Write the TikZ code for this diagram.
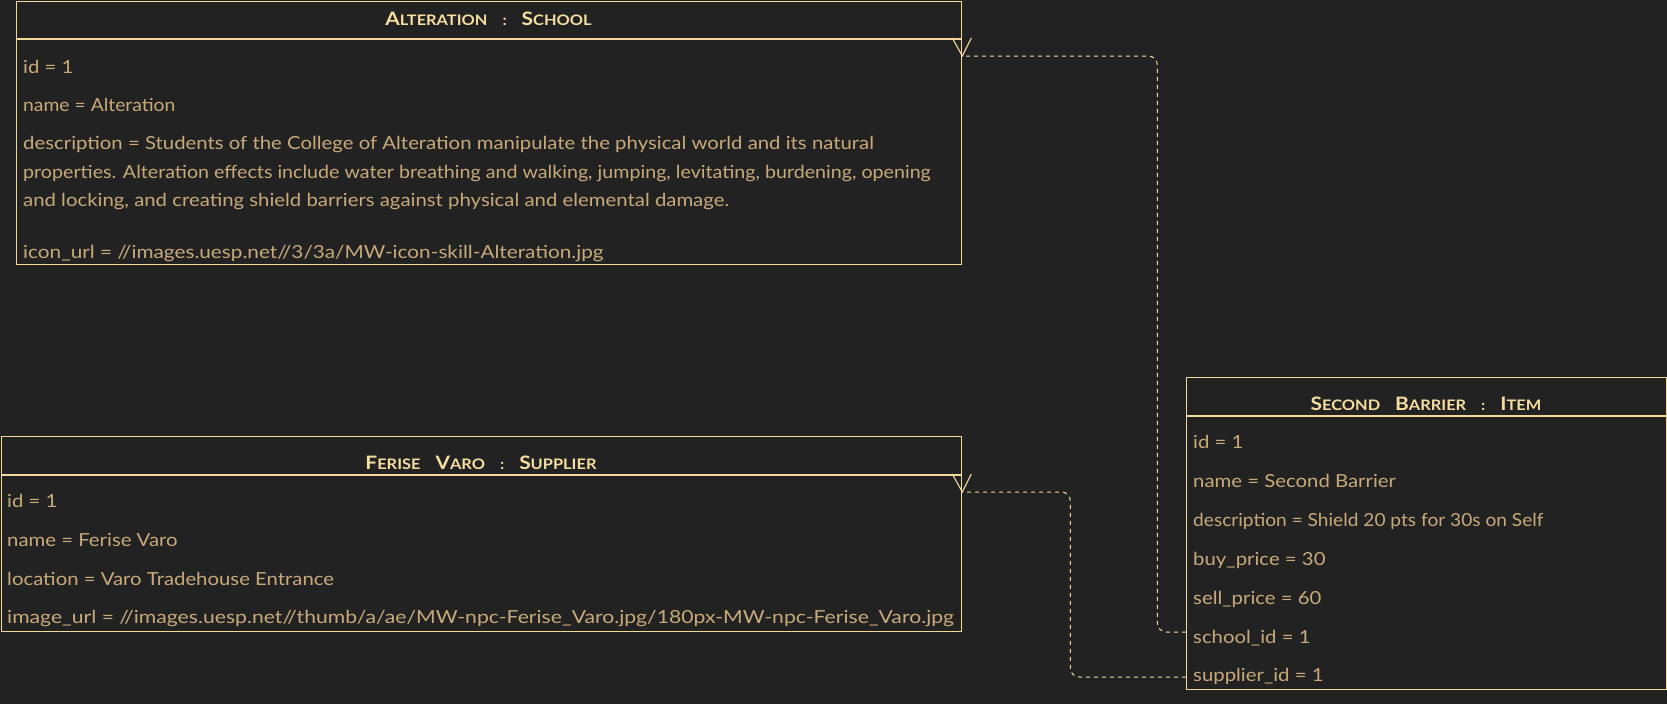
\documentclass[tikz,border=0pt]{standalone}
\usepackage{graphicx}
\usepackage{fontspec}
\setmainfont{Lato}[FakeStretch=1.13]
\usetikzlibrary{calc}
\definecolor{bg}{HTML}{222222}
\definecolor{edge}{HTML}{F2D99A}
\definecolor{ttl}{HTML}{F5DEA0}
\definecolor{txt}{HTML}{C8AA7A}
\tikzset{
  box/.style={draw=edge, line width=1.3pt, inner sep=0pt, anchor=north west},
  sep/.style={draw=edge, line width=1.3pt},
  rowtxt/.style={anchor=base west, inner sep=0pt, text=txt, font=\fontsize{18}{20}\selectfont},
  ttltxt/.style={anchor=base, inner sep=0pt, text=ttl, font=\bfseries},
  conn/.style={draw=edge, line width=1pt, dash pattern=on 4pt off 4pt, rounded corners=9pt},
  vhead/.style={draw=edge, line width=1.1pt},
}
\newcommand\bigc[1]{{\fontsize{18.5}{18}\selectfont #1}}
\newcommand\smc[1]{{\fontsize{14.5}{14}\selectfont #1}}
\newcommand\tg{\hspace{15pt}}
\newcommand\hs[2]{\scalebox{#1}[1]{#2}}
\begin{document}
\begin{tikzpicture}[x=1pt,y=-1pt]
\fill[bg] (0,0) rectangle (1667,704);
\useasboundingbox (0,0) rectangle (1667,704);

% School box
\node[box, minimum width=945pt, minimum height=263pt] (school) at (16,1) {};
\draw[sep] (school.west |- 0,39) -- (school.east |- 0,39);
\node[ttltxt] (schoolT) at (488.5,25) {\bigc{A}\smc{LTERATION}\tg\smc{:}\tg\bigc{S}\smc{CHOOL}};
\node[rowtxt] (s1) at (23,73) {id = 1};
\node[rowtxt] (s2) at (23,111) {\hs{0.95}{name = Alteration}};
\node[rowtxt] (s3) at (23,149) {description = Students of the College of Alteration manipulate the physical world and its natural};
\node[rowtxt] (s4) at (23,178) {\hs{0.966}{properties. Alteration effects include water breathing and walking, jumping, levitating, burdening, opening}};
\node[rowtxt] (s5) at (23,206) {and locking, and creating shield barriers against physical and elemental damage.};
\node[rowtxt] (s6) at (23,258) {\hs{1.02}{icon\_url = //images.uesp.net//3/3a/MW-icon-skill-Alteration.jpg}};

% Supplier box
\node[box, minimum width=960pt, minimum height=195pt] (supplier) at (1,436) {};
\draw[sep] (supplier.west |- 0,475) -- (supplier.east |- 0,475);
\node[ttltxt] (supplierT) at (481,469) {\bigc{F}\smc{ERISE}\tg\bigc{V}\smc{ARO}\tg\smc{:}\tg\bigc{S}\smc{UPPLIER}};
\node[rowtxt] (p1) at (7,507) {id = 1};
\node[rowtxt] (p2) at (7,546) {name = Ferise Varo};
\node[rowtxt] (p3) at (7,585) {location = Varo Tradehouse Entrance};
\node[rowtxt] (p4) at (7,623) {\hs{1.04}{image\_url = //images.uesp.net//thumb/a/ae/MW-npc-Ferise\_Varo.jpg/180px-MW-npc-Ferise\_Varo.jpg}};

% Item box
\node[box, minimum width=480pt, minimum height=312pt] (item) at (1186,377) {};
\draw[sep] (item.west |- 0,416) -- (item.east |- 0,416);
\node[ttltxt] (itemT) at (1426,410) {\bigc{S}\smc{ECOND}\tg\bigc{B}\smc{ARRIER}\tg\smc{:}\tg\bigc{I}\smc{TEM}};
\node[rowtxt] (i1) at (1193,448) {id = 1};
\node[rowtxt] (i2) at (1193,487) {name = Second Barrier};
\node[rowtxt] (i3) at (1193,526) {\hs{0.94}{description = Shield 20 pts for 30s on Self}};
\node[rowtxt] (i4) at (1193,565) {buy\_price = 30};
\node[rowtxt] (i5) at (1193,604) {sell\_price = 60};
\node[rowtxt] (i6) at (1193,643) {school\_id = 1};
\node[rowtxt] (i7) at (1193,681) {supplier\_id = 1};

% connectors
\coordinate (schA) at (item.west |- 0,632);
\coordinate (supA) at (item.west |- 0,677);
\coordinate (schArr) at (school.east |- 0,56);
\coordinate (supArr) at (supplier.east |- 0,492);
\draw[conn] (schA) -| ($(schArr)+(195,0)$) -- (schArr);
\draw[conn] (supA) -| ($(supArr)+(108,0)$) -- (supArr);
\draw[vhead] ($(schArr)+(-10,-18)$) -- (schArr) -- ($(schArr)+(9,-18)$);
\draw[vhead] ($(supArr)+(-10,-18)$) -- (supArr) -- ($(supArr)+(9,-18)$);
\end{tikzpicture}
\end{document}
